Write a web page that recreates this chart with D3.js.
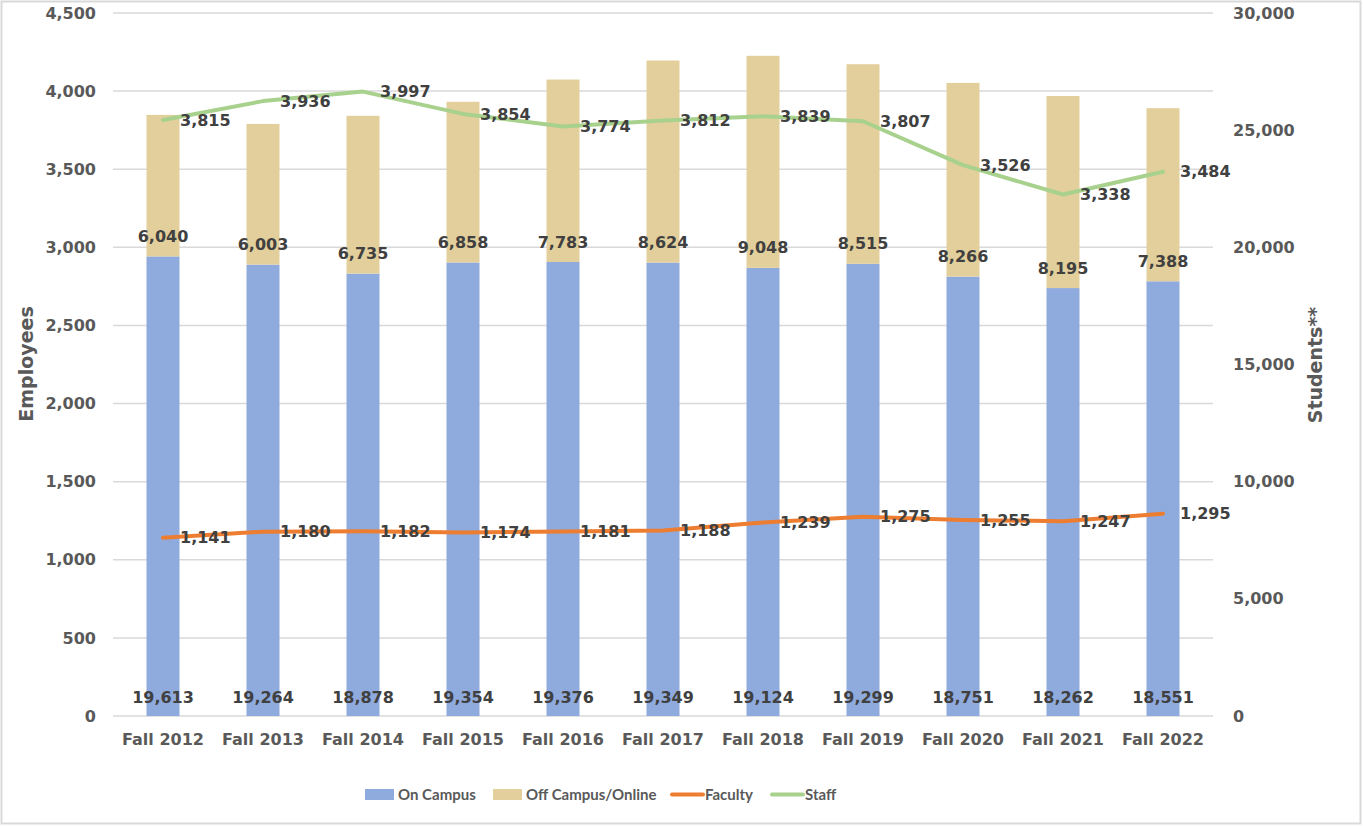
<!DOCTYPE html>
<html><head><meta charset="utf-8">
<script src="https://cdn.jsdelivr.net/npm/d3@7"></script>
<style>
body{margin:0;background:#fff;}
svg{display:block;font-family:"DejaVu Sans","Noto Sans",sans-serif;}
</style></head>
<body>
<svg id="chart" width="1363" height="827"></svg>
<script>
const categories = ["Fall 2012","Fall 2013","Fall 2014","Fall 2015","Fall 2016","Fall 2017","Fall 2018","Fall 2019","Fall 2020","Fall 2021","Fall 2022"];
const onCampus = [19613,19264,18878,19354,19376,19349,19124,19299,18751,18262,18551];
const offCampus = [6040,6003,6735,6858,7783,8624,9048,8515,8266,8195,7388];
const faculty = [1141,1180,1182,1174,1181,1188,1239,1275,1255,1247,1295];
const staff = [3815,3936,3997,3854,3774,3812,3839,3807,3526,3338,3484];
const leftTicks = [0,500,1000,1500,2000,2500,3000,3500,4000,4500];
const rightTicks = [0,5000,10000,15000,20000,25000,30000];

const FONT = '"DejaVu Sans","Noto Sans",sans-serif';
const svg = d3.select("#chart");
const fmt = d3.format(",");
const plot = {left:113, right:1213, top:13, bottom:716};

svg.append("rect").attr("x",1.5).attr("y",1.5).attr("width",1359).attr("height",822)
  .attr("fill","#fff").attr("stroke","#d9d9d9").attr("stroke-width",2);

const x = d3.scaleBand().domain(categories).range([plot.left,plot.right]).paddingInner(0.67).paddingOuter(0.335);
const yL = d3.scaleLinear().domain([0,4500]).range([plot.bottom,plot.top]);
const yR = d3.scaleLinear().domain([0,30000]).range([plot.bottom,plot.top]);
const cx = c => x(c) + x.bandwidth()/2;

// gridlines
svg.append("g").selectAll("line").data(leftTicks).join("line")
  .attr("x1",plot.left).attr("x2",plot.right)
  .attr("y1",d=>yL(d)).attr("y2",d=>yL(d))
  .attr("stroke","#d9d9d9").attr("stroke-width",1.5);

function styleText(sel){
  sel.attr("fill","#595959").attr("font-size",16).attr("font-weight",700).attr("font-family",FONT);
}

// left axis
const axL = svg.append("g").attr("transform",`translate(${plot.left-17},0)`)
  .call(d3.axisLeft(yL).tickValues(leftTicks).tickFormat(fmt).tickSize(0).tickPadding(0));
axL.select(".domain").remove();
styleText(axL.selectAll("text"));

// right axis
const axR = svg.append("g").attr("transform",`translate(${plot.right+20},0)`)
  .call(d3.axisRight(yR).tickValues(rightTicks).tickFormat(fmt).tickSize(0).tickPadding(0));
axR.select(".domain").remove();
styleText(axR.selectAll("text"));

// x axis
const axX = svg.append("g").attr("transform",`translate(0,${plot.bottom+17})`)
  .call(d3.axisBottom(x).tickSize(0).tickPadding(0));
axX.select(".domain").remove();
styleText(axX.selectAll("text"));
axX.selectAll("text").attr("dy","0.75em");

// axis titles
svg.append("text").attr("transform",`translate(26,364) rotate(-90)`).attr("text-anchor","middle")
  .attr("dy","0.35em").attr("fill","#595959").attr("font-size",19).attr("font-weight",700).text("Employees");
svg.append("text").attr("transform",`translate(1315,365) rotate(-90)`).attr("text-anchor","middle")
  .attr("dy","0.35em").attr("fill","#595959").attr("font-size",19).attr("font-weight",700).text("Students**");

// bars
const barG = svg.append("g");
barG.selectAll(".on").data(categories).join("rect")
  .attr("x",d=>x(d)).attr("width",x.bandwidth())
  .attr("y",(d,i)=>yR(onCampus[i])).attr("height",(d,i)=>yR(0)-yR(onCampus[i]))
  .attr("fill","#8FAADC");
barG.selectAll(".off").data(categories).join("rect")
  .attr("x",d=>x(d)).attr("width",x.bandwidth())
  .attr("y",(d,i)=>yR(onCampus[i]+offCampus[i])).attr("height",(d,i)=>yR(onCampus[i])-yR(onCampus[i]+offCampus[i]))
  .attr("fill","#E3CF9B");

// lines
const lineF = d3.line().x((d,i)=>cx(categories[i])).y(d=>yL(d));
svg.append("path").datum(faculty).attr("d",lineF).attr("fill","none")
  .attr("stroke","#ED7D31").attr("stroke-width",4).attr("stroke-linejoin","round").attr("stroke-linecap","round");
svg.append("path").datum(staff).attr("d",lineF).attr("fill","none")
  .attr("stroke","#A9D18E").attr("stroke-width",4).attr("stroke-linejoin","round").attr("stroke-linecap","round");

// labels
const lab = svg.append("g").attr("fill","#404040").attr("font-size",16).attr("font-weight",700)
  .attr("font-family",FONT);
lab.selectAll(".lon").data(categories).join("text")
  .attr("x",d=>cx(d)).attr("y",yR(0)-19).attr("dy","0.35em").attr("text-anchor","middle")
  .text((d,i)=>fmt(onCampus[i]));
lab.selectAll(".loff").data(categories).join("text")
  .attr("x",d=>cx(d)).attr("y",(d,i)=>yR(onCampus[i])-20).attr("dy","0.35em").attr("text-anchor","middle")
  .text((d,i)=>fmt(offCampus[i]));
lab.selectAll(".lf").data(categories).join("text")
  .attr("x",d=>cx(d)+17).attr("y",(d,i)=>yL(faculty[i])).attr("dy","0.35em").attr("text-anchor","start")
  .text((d,i)=>fmt(faculty[i]));
lab.selectAll(".ls").data(categories).join("text")
  .attr("x",d=>cx(d)+17).attr("y",(d,i)=>yL(staff[i])).attr("dy","0.35em").attr("text-anchor","start")
  .text((d,i)=>fmt(staff[i]));

// legend
const leg = svg.append("g").attr("font-size",15).attr("font-weight",700).attr("fill","#595959")
  .attr("font-family",'"Lato","Open Sans",sans-serif');
const items = [
  {name:"On Campus", type:"rect", color:"#8FAADC", x:365},
  {name:"Off Campus/Online", type:"rect", color:"#E3CF9B", x:493},
  {name:"Faculty", type:"line", color:"#ED7D31", x:672},
  {name:"Staff", type:"line", color:"#A9D18E", x:772}
];
items.forEach(it=>{
  if(it.type==="rect") leg.append("rect").attr("x",it.x).attr("y",789).attr("width",29).attr("height",11).attr("fill",it.color);
  else leg.append("line").attr("x1",it.x).attr("x2",it.x+31).attr("y1",794.5).attr("y2",794.5).attr("stroke",it.color).attr("stroke-width",4).attr("stroke-linecap","round");
  leg.append("text").attr("x",it.x+33).attr("y",795).attr("dy","0.35em").text(it.name);
});
</script>
</body></html>
